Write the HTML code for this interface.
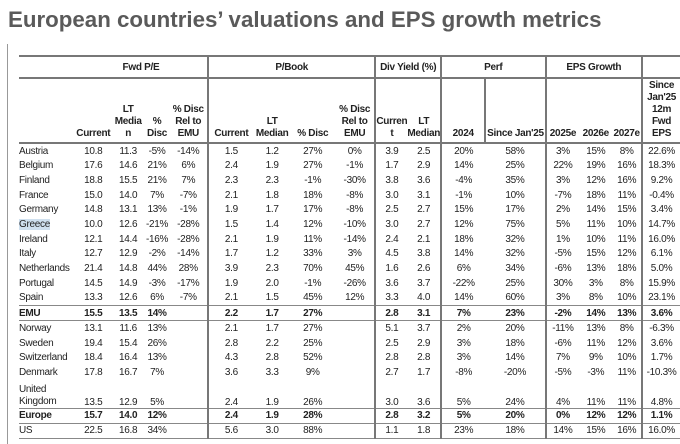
<!DOCTYPE html>
<html><head><meta charset="utf-8"><style>
body{margin:0;width:680px;height:442px;background:#fff;overflow:hidden;position:relative;font-family:"Liberation Sans",Arial,sans-serif;}
.title{position:absolute;left:8px;top:7px;font-size:22.3px;font-weight:bold;color:#5a5a5a;white-space:nowrap;}
.frame{position:absolute;left:7px;top:44px;width:1px;height:400px;background:#999;}
table{position:absolute;left:19px;top:55px;border-collapse:collapse;table-layout:fixed;font-size:10px;color:#222;letter-spacing:-0.3px;}
td{padding:0;text-align:center;height:14.65px;line-height:11px;white-space:nowrap;overflow:visible;}
td.l{text-align:left;}
.gh td{height:20px;font-weight:bold;border-top:2px solid #777;border-bottom:2px solid #777;}
.sh td{height:61px;font-weight:bold;vertical-align:bottom;padding-bottom:2px;border-bottom:2px solid #777;white-space:normal;line-height:12px;}
.vb{border-left:2px solid #777;}
.b td{font-weight:bold;border-top:1px solid #888;border-bottom:1px solid #888;height:14px;}
.last td{border-bottom:1px solid #888;}
.hl{background:#cfe0ef;}
.uk td{height:28px;vertical-align:bottom;}
</style></head><body>
<div class="title">European countries’ valuations and EPS growth metrics</div>
<div class="frame"></div>
<table>
<colgroup><col style="width:56px"><col style="width:37px"><col style="width:33px"><col style="width:25px"><col style="width:39px"><col style="width:46px"><col style="width:37px"><col style="width:45px"><col style="width:41px"><col style="width:32px"><col style="width:30px"><col style="width:45px"><col style="width:61px"><col style="width:34px"><col style="width:33px"><col style="width:30px"><col style="width:38px"></colgroup>
<tr class="gh"><td></td><td colspan="4">Fwd P/E</td><td colspan="4" class="vb">P/Book</td><td colspan="2" class="vb">Div Yield (%)</td><td colspan="2" class="vb">Perf</td><td colspan="3" class="vb">EPS Growth</td><td class="vb"></td></tr>
<tr class="sh"><td></td><td>Current</td><td>LT Media n</td><td>% Disc</td><td>% Disc Rel to EMU</td><td class="vb">Current</td><td>LT Median</td><td>% Disc</td><td>% Disc Rel to EMU</td><td class="vb">Curren t</td><td>LT Median</td><td class="vb">2024</td><td class="vb">Since Jan'25</td><td class="vb">2025e</td><td>2026e</td><td>2027e</td><td class="vb">Since Jan'25 12m Fwd EPS</td></tr>
<tr><td class="l">Austria</td><td>10.8</td><td>11.3</td><td>-5%</td><td>-14%</td><td class="vb">1.5</td><td>1.2</td><td>27%</td><td>0%</td><td class="vb">3.9</td><td>2.5</td><td class="vb">20%</td><td>58%</td><td class="vb">3%</td><td>15%</td><td>8%</td><td class="vb">22.6%</td></tr>
<tr><td class="l">Belgium</td><td>17.6</td><td>14.6</td><td>21%</td><td>6%</td><td class="vb">2.4</td><td>1.9</td><td>27%</td><td>-1%</td><td class="vb">1.7</td><td>2.9</td><td class="vb">14%</td><td>25%</td><td class="vb">22%</td><td>19%</td><td>16%</td><td class="vb">18.3%</td></tr>
<tr><td class="l">Finland</td><td>18.8</td><td>15.5</td><td>21%</td><td>7%</td><td class="vb">2.3</td><td>2.3</td><td>-1%</td><td>-30%</td><td class="vb">3.8</td><td>3.6</td><td class="vb">-4%</td><td>35%</td><td class="vb">3%</td><td>12%</td><td>16%</td><td class="vb">9.2%</td></tr>
<tr><td class="l">France</td><td>15.0</td><td>14.0</td><td>7%</td><td>-7%</td><td class="vb">2.1</td><td>1.8</td><td>18%</td><td>-8%</td><td class="vb">3.0</td><td>3.1</td><td class="vb">-1%</td><td>10%</td><td class="vb">-7%</td><td>18%</td><td>11%</td><td class="vb">-0.4%</td></tr>
<tr><td class="l">Germany</td><td>14.8</td><td>13.1</td><td>13%</td><td>-1%</td><td class="vb">1.9</td><td>1.7</td><td>17%</td><td>-8%</td><td class="vb">2.5</td><td>2.7</td><td class="vb">15%</td><td>17%</td><td class="vb">2%</td><td>14%</td><td>15%</td><td class="vb">3.4%</td></tr>
<tr><td class="l"><span class="hl">Greece</span></td><td>10.0</td><td>12.6</td><td>-21%</td><td>-28%</td><td class="vb">1.5</td><td>1.4</td><td>12%</td><td>-10%</td><td class="vb">3.0</td><td>2.7</td><td class="vb">12%</td><td>75%</td><td class="vb">5%</td><td>11%</td><td>10%</td><td class="vb">14.7%</td></tr>
<tr><td class="l">Ireland</td><td>12.1</td><td>14.4</td><td>-16%</td><td>-28%</td><td class="vb">2.1</td><td>1.9</td><td>11%</td><td>-14%</td><td class="vb">2.4</td><td>2.1</td><td class="vb">18%</td><td>32%</td><td class="vb">1%</td><td>10%</td><td>11%</td><td class="vb">16.0%</td></tr>
<tr><td class="l">Italy</td><td>12.7</td><td>12.9</td><td>-2%</td><td>-14%</td><td class="vb">1.7</td><td>1.2</td><td>33%</td><td>3%</td><td class="vb">4.5</td><td>3.8</td><td class="vb">14%</td><td>32%</td><td class="vb">-5%</td><td>15%</td><td>12%</td><td class="vb">6.1%</td></tr>
<tr><td class="l">Netherlands</td><td>21.4</td><td>14.8</td><td>44%</td><td>28%</td><td class="vb">3.9</td><td>2.3</td><td>70%</td><td>45%</td><td class="vb">1.6</td><td>2.6</td><td class="vb">6%</td><td>34%</td><td class="vb">-6%</td><td>13%</td><td>18%</td><td class="vb">5.0%</td></tr>
<tr><td class="l">Portugal</td><td>14.5</td><td>14.9</td><td>-3%</td><td>-17%</td><td class="vb">1.9</td><td>2.0</td><td>-1%</td><td>-26%</td><td class="vb">3.6</td><td>3.7</td><td class="vb">-22%</td><td>25%</td><td class="vb">30%</td><td>3%</td><td>8%</td><td class="vb">15.9%</td></tr>
<tr><td class="l">Spain</td><td>13.3</td><td>12.6</td><td>6%</td><td>-7%</td><td class="vb">2.1</td><td>1.5</td><td>45%</td><td>12%</td><td class="vb">3.3</td><td>4.0</td><td class="vb">14%</td><td>60%</td><td class="vb">3%</td><td>8%</td><td>10%</td><td class="vb">23.1%</td></tr>
<tr class="b"><td class="l">EMU</td><td>15.5</td><td>13.5</td><td>14%</td><td></td><td class="vb">2.2</td><td>1.7</td><td>27%</td><td></td><td class="vb">2.8</td><td>3.1</td><td class="vb">7%</td><td>23%</td><td class="vb">-2%</td><td>14%</td><td>13%</td><td class="vb">3.6%</td></tr>
<tr><td class="l">Norway</td><td>13.1</td><td>11.6</td><td>13%</td><td></td><td class="vb">2.1</td><td>1.7</td><td>27%</td><td></td><td class="vb">5.1</td><td>3.7</td><td class="vb">2%</td><td>20%</td><td class="vb">-11%</td><td>13%</td><td>8%</td><td class="vb">-6.3%</td></tr>
<tr><td class="l">Sweden</td><td>19.4</td><td>15.4</td><td>26%</td><td></td><td class="vb">2.8</td><td>2.2</td><td>25%</td><td></td><td class="vb">2.5</td><td>2.9</td><td class="vb">3%</td><td>18%</td><td class="vb">-6%</td><td>11%</td><td>12%</td><td class="vb">3.6%</td></tr>
<tr><td class="l">Switzerland</td><td>18.4</td><td>16.4</td><td>13%</td><td></td><td class="vb">4.3</td><td>2.8</td><td>52%</td><td></td><td class="vb">2.8</td><td>2.8</td><td class="vb">3%</td><td>14%</td><td class="vb">7%</td><td>9%</td><td>10%</td><td class="vb">1.7%</td></tr>
<tr><td class="l">Denmark</td><td>17.8</td><td>16.7</td><td>7%</td><td></td><td class="vb">3.6</td><td>3.3</td><td>9%</td><td></td><td class="vb">2.7</td><td>1.7</td><td class="vb">-8%</td><td>-20%</td><td class="vb">-5%</td><td>-3%</td><td>11%</td><td class="vb">-10.3%</td></tr>
<tr class="uk"><td class="l" style="line-height:12px">United<br>Kingdom</td><td>13.5</td><td>12.9</td><td>5%</td><td></td><td class="vb">2.4</td><td>1.9</td><td>26%</td><td></td><td class="vb">3.0</td><td>3.6</td><td class="vb">5%</td><td>24%</td><td class="vb">4%</td><td>11%</td><td>11%</td><td class="vb">4.8%</td></tr>
<tr class="b"><td class="l">Europe</td><td>15.7</td><td>14.0</td><td>12%</td><td></td><td class="vb">2.4</td><td>1.9</td><td>28%</td><td></td><td class="vb">2.8</td><td>3.2</td><td class="vb">5%</td><td>20%</td><td class="vb">0%</td><td>12%</td><td>12%</td><td class="vb">1.1%</td></tr>
<tr class="last"><td class="l">US</td><td>22.5</td><td>16.8</td><td>34%</td><td></td><td class="vb">5.6</td><td>3.0</td><td>88%</td><td></td><td class="vb">1.1</td><td>1.8</td><td class="vb">23%</td><td>18%</td><td class="vb">14%</td><td>15%</td><td>16%</td><td class="vb">16.0%</td></tr>
</table>
</body></html>
